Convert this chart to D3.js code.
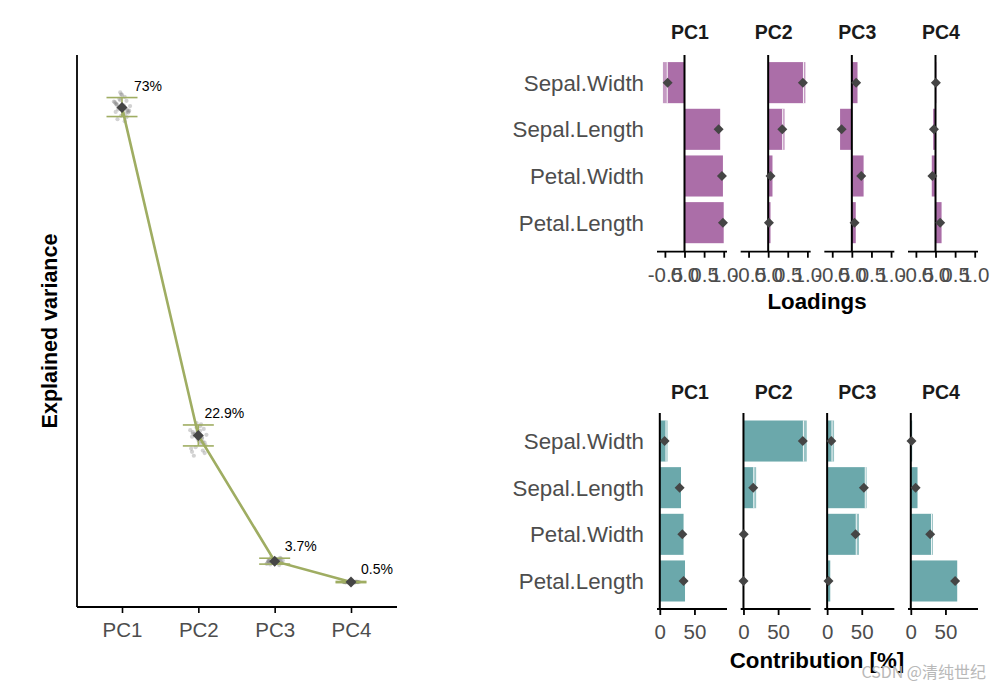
<!DOCTYPE html>
<html>
<head>
<meta charset="utf-8">
<script src="https://cdn.jsdelivr.net/npm/d3@7"></script>
<style>
  html, body { margin: 0; padding: 0; background: #fff; }
  svg { display: block; font-family: "Liberation Sans", Arial, sans-serif; }
</style>
</head>
<body>
<svg id="chart" width="1000" height="691"></svg>
<script>
// ---------------- DATA ----------------
const pcs = ["PC1", "PC2", "PC3", "PC4"];
const explained = [73, 22.9, 3.7, 0.5];
const explainedLabels = ["73%", "22.9%", "3.7%", "0.5%"];
const explainedLo = [71.6, 21.3, 3.25, 0.42];
const explainedHi = [74.5, 24.5, 4.15, 0.6];

// bootstrap replicates (explained variance, %) and their horizontal jitter (px)
const bootPC1 = [73.4, 72.8, 74.1, 72.2, 73.9, 71.9, 74.6, 73.0, 72.5, 75.0, 71.5, 73.6, 72.9, 74.3, 73.2, 71.2, 74.9, 72.6, 73.8, 72.1, 75.3, 70.9, 73.5, 72.4, 73.1, 72.7, 74.0, 71.7, 73.3, 72.3];
const bootPC2 = [23.2, 22.4, 24.1, 21.8, 23.7, 22.0, 24.6, 22.9, 21.4, 23.5, 20.6, 22.7, 24.3, 21.1, 23.0, 19.8, 22.2, 23.9, 20.9, 22.6, 24.8, 21.6, 23.4, 20.2, 22.8, 23.1, 21.9, 22.5, 23.6, 20.4];
const bootPC3 = [3.7, 3.9, 3.5, 4.1, 3.3, 3.8, 3.6, 4.3, 3.4, 3.9, 3.1, 3.7, 4.0, 3.5, 3.8, 3.2, 3.6, 4.2, 3.4, 3.7, 3.9, 3.5, 3.8, 3.6, 3.7, 3.6, 3.8, 3.5, 3.9, 3.7];
const bootPC4 = [0.5, 0.45, 0.55, 0.5, 0.58, 0.43, 0.52, 0.48, 0.5, 0.46, 0.54, 0.49, 0.51, 0.47, 0.53, 0.5, 0.44, 0.56, 0.5, 0.48, 0.52, 0.5, 0.47, 0.53, 0.5, 0.49, 0.51, 0.5, 0.48, 0.52];
const bootJitter = [-6, 4, -2, 7, -9, 1, 3, -4, 8, -1, 5, -7, 2, -3, 9, -5, 0, 6, -8, 4, -2, 3, -6, 7, 1, -4, 5, -1, 2, -7];

const variables = ["Sepal.Width", "Sepal.Length", "Petal.Width", "Petal.Length"];

// loadings per PC, rows in `variables` order
const loadPC1 = [-0.43, 0.87, 0.955, 0.98];
const loadPC2 = [0.885, 0.36, 0.06, 0.02];
const loadPC3 = [0.11, -0.26, 0.24, 0.07];
const loadPC4 = [0.01, -0.04, -0.08, 0.12];
const loadBarPC1 = [-0.44, 0.91, 0.98, 1.0];
const loadBarPC2 = [0.90, 0.37, 0.11, 0.06];
const loadBarPC3 = [0.145, -0.30, 0.30, 0.10];
const loadBarPC4 = [0.02, -0.06, -0.095, 0.155];
const loadMaxPC1 = [-0.55, 0.91, 0.98, 1.0];
const loadMaxPC2 = [0.95, 0.42, 0.11, 0.06];
const loadMaxPC3 = [0.145, -0.30, 0.30, 0.10];
const loadMaxPC4 = [0.02, -0.06, -0.095, 0.155];
const loadTicks = [-0.5, 0, 0.5, 1.0];
const loadTickLabels = ["-0.5", "0.0", "0.5", "1.0"];

// contributions (%) per PC
const contPC1 = [7, 28.6, 32.5, 34.3];
const contPC2 = [85.7, 14, 0.4, 0.05];
const contPC3 = [6, 53, 41, 2];
const contPC4 = [1, 7, 28, 64];
const contBarPC1 = [8.9, 30.6, 34.3, 36.4];
const contBarPC2 = [86.5, 14.9, 0.5, 0.2];
const contBarPC3 = [7, 55, 42, 4.5];
const contBarPC4 = [2, 9.7, 30, 67];
const contMaxPC1 = [11.2, 30.6, 34.3, 36.4];
const contMaxPC2 = [91.4, 18.3, 0.5, 0.2];
const contMaxPC3 = [10, 57, 46, 4.5];
const contMaxPC4 = [2, 9.7, 32, 67];
const contTicks = [0, 50];
const contTickLabels = ["0", "50"];

// ---------------- STYLE ----------------
const lineColor = "#9fad62";
const pointColor = "#454545";
const purple = "#ab6ea8";
const teal = "#6ba8ab";
const axisTextColor = "#4d4d4d";

const svg = d3.select("#chart");

function diamond(g, x, y, r, fill) {
  g.append("path")
    .attr("d", `M${x},${y - r}L${x + r},${y}L${x},${y + r}L${x - r},${y}Z`)
    .attr("fill", fill);
}

// ---------------- LEFT PANEL ----------------
const xL = d3.scalePoint().domain(pcs).range([122, 351]);
const yL = d3.scaleLinear().domain([-3.3, 81]).range([607, 55]);
const left = svg.append("g");

// axes
const xAxisL = left.append("g").attr("transform", "translate(0,607)")
  .call(d3.axisBottom(xL).tickSize(6).tickPadding(6).tickSizeOuter(0));
xAxisL.select(".domain").remove();
xAxisL.selectAll("line").attr("stroke", "#000").attr("stroke-width", 1.6);
xAxisL.selectAll("text").attr("font-size", 20.5).attr("fill", axisTextColor).attr("dy", "0.9em");
left.append("line").attr("x1", 77).attr("x2", 397).attr("y1", 607).attr("y2", 607)
  .attr("stroke", "#000").attr("stroke-width", 1.8);
left.append("line").attr("x1", 77).attr("x2", 77).attr("y1", 55).attr("y2", 607)
  .attr("stroke", "#000").attr("stroke-width", 1.8);

left.append("text")
  .attr("transform", "translate(57,331) rotate(-90)")
  .attr("text-anchor", "middle")
  .attr("font-size", 21.5).attr("font-weight", "bold").attr("fill", "#000")
  .text("Explained variance");

// bootstrap points
const boots = [bootPC1, bootPC2, bootPC3, bootPC4];
boots.forEach((arr, i) => {
  arr.forEach((v, j) => {
    left.append("circle")
      .attr("cx", xL(pcs[i]) + bootJitter[j] * 0.9)
      .attr("cy", yL(v))
      .attr("r", 2.1)
      .attr("fill", "#7f7f7f")
      .attr("opacity", 0.35);
  });
});

// connecting line
left.append("path")
  .datum(explained)
  .attr("d", d3.line().x((d, i) => xL(pcs[i])).y(d => yL(d)))
  .attr("fill", "none").attr("stroke", lineColor).attr("stroke-width", 2.6);

// error bars
explained.forEach((v, i) => {
  const x = xL(pcs[i]);
  const g = left.append("g").attr("stroke", lineColor).attr("stroke-width", 1.6);
  g.append("line").attr("x1", x).attr("x2", x).attr("y1", yL(explainedLo[i])).attr("y2", yL(explainedHi[i]));
  g.append("line").attr("x1", x - 15.5).attr("x2", x + 15.5).attr("y1", yL(explainedLo[i])).attr("y2", yL(explainedLo[i]));
  g.append("line").attr("x1", x - 15.5).attr("x2", x + 15.5).attr("y1", yL(explainedHi[i])).attr("y2", yL(explainedHi[i]));
  diamond(left, x, yL(v), 5.5, pointColor);
  left.append("text")
    .attr("x", x + 26).attr("y", yL(explainedHi[i]) - 7)
    .attr("text-anchor", "middle").attr("font-size", 14).attr("fill", "#000")
    .text(explainedLabels[i]);
});

// ---------------- RIGHT FACETED PANELS ----------------
const facetLeft = d3.scalePoint().domain(pcs).range([657, 908]);
const facetWidth = 70;

function facetPanel(cfg) {
  const g = svg.append("g");
  const yB = d3.scaleBand().domain(variables)
    .range([cfg.bandTop, cfg.bandBottom]).paddingInner(0.12).paddingOuter(0.06);

  // row labels
  variables.forEach(v => {
    g.append("text")
      .attr("x", 644).attr("y", yB(v) + yB.bandwidth() / 2)
      .attr("dy", "0.36em").attr("text-anchor", "end")
      .attr("font-size", 22.3).attr("fill", axisTextColor).text(v);
  });

  pcs.forEach((pc, k) => {
    const x0 = facetLeft(pc);
    const xs = d3.scaleLinear().domain(cfg.domain).range([x0, x0 + facetWidth]);
    const fg = g.append("g");

    // facet title
    fg.append("text").attr("x", x0 + facetWidth / 2 - 2).attr("y", cfg.titleY)
      .attr("text-anchor", "middle").attr("font-size", 19.5).attr("font-weight", "bold")
      .attr("fill", "#1a1a1a").text(pc);

    const bars = cfg.bars[k], maxs = cfg.maxs[k], pts = cfg.points[k];
    variables.forEach((v, i) => {
      const y = yB(v), h = yB.bandwidth();
      // faint extension
      const a = Math.min(xs(bars[i]), xs(maxs[i])), b = Math.max(xs(bars[i]), xs(maxs[i]));
      if (b - a > 0.2) {
        fg.append("rect").attr("x", a).attr("y", y).attr("width", b - a).attr("height", h)
          .attr("fill", cfg.color).attr("opacity", 0.7);
      }
      const x1 = Math.min(xs(0), xs(bars[i])), x2 = Math.max(xs(0), xs(bars[i]));
      fg.append("rect").attr("x", x1).attr("y", y).attr("width", x2 - x1).attr("height", h)
        .attr("fill", cfg.color);
      if (b - a > 0.2) {
        fg.append("line").attr("x1", xs(bars[i])).attr("x2", xs(bars[i]))
          .attr("y1", y).attr("y2", y + h).attr("stroke", "#fff").attr("stroke-width", 1)
          .attr("opacity", 0.9);
      }
    });

    // zero line
    fg.append("line").attr("x1", xs(0)).attr("x2", xs(0))
      .attr("y1", cfg.zeroTop).attr("y2", cfg.axisY)
      .attr("stroke", "#000").attr("stroke-width", 2);

    // diamonds
    variables.forEach((v, i) => {
      diamond(fg, xs(pts[i]), yB(v) + yB.bandwidth() / 2, 5, pointColor);
    });

    // x axis
    const ax = fg.append("g").attr("transform", `translate(0,${cfg.axisY})`)
      .call(d3.axisBottom(xs).tickValues(cfg.ticks)
        .tickFormat((d, i) => cfg.tickLabels[i]).tickSize(6).tickPadding(6).tickSizeOuter(0));
    ax.select(".domain").remove();
    ax.selectAll("line").attr("stroke", "#000").attr("stroke-width", 1.8);
    ax.selectAll("text").attr("font-size", 20.5).attr("fill", axisTextColor).attr("dy", "0.9em");
    fg.append("line").attr("x1", x0).attr("x2", x0 + facetWidth)
      .attr("y1", cfg.axisY).attr("y2", cfg.axisY)
      .attr("stroke", "#000").attr("stroke-width", 1.8);
  });

  g.append("text").attr("x", 817).attr("y", cfg.xTitleY)
    .attr("text-anchor", "middle").attr("font-size", 22.3).attr("font-weight", "bold")
    .attr("fill", "#000").text(cfg.xTitle);
}

facetPanel({
  bandTop: 59.3, bandBottom: 246, zeroTop: 55, axisY: 251.7, titleY: 39,
  domain: [-0.7015, 1.084], color: purple,
  bars: [loadBarPC1, loadBarPC2, loadBarPC3, loadBarPC4],
  maxs: [loadMaxPC1, loadMaxPC2, loadMaxPC3, loadMaxPC4],
  points: [loadPC1, loadPC2, loadPC3, loadPC4],
  ticks: loadTicks, tickLabels: loadTickLabels,
  xTitle: "Loadings", xTitleY: 309
});

facetPanel({
  bandTop: 417.7, bandBottom: 604.3, zeroTop: 413, axisY: 609, titleY: 399,
  domain: [-4.04, 97], color: teal,
  bars: [contBarPC1, contBarPC2, contBarPC3, contBarPC4],
  maxs: [contMaxPC1, contMaxPC2, contMaxPC3, contMaxPC4],
  points: [contPC1, contPC2, contPC3, contPC4],
  ticks: contTicks, tickLabels: contTickLabels,
  xTitle: "Contribution [%]", xTitleY: 668
});

// watermark
svg.append("text").attr("x", 986).attr("y", 678).attr("text-anchor", "end")
  .attr("font-family", "'Noto Sans CJK SC', 'Liberation Sans', sans-serif")
  .attr("font-size", 16).attr("fill", "#b8b8b8").text("CSDN @清纯世纪");
</script>
</body>
</html>
